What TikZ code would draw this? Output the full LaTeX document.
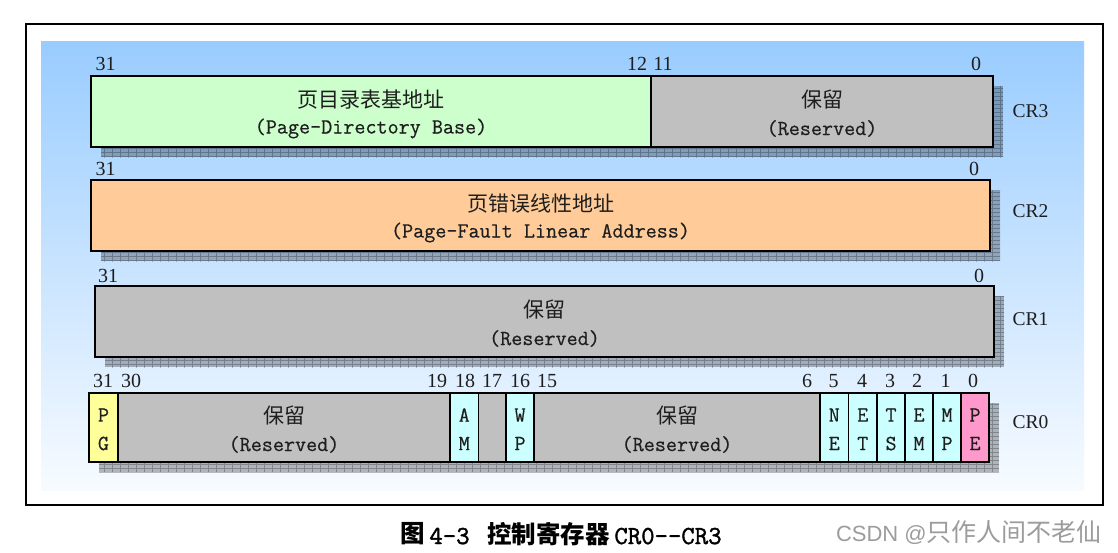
\documentclass[tikz,border=0pt]{standalone}
\usepackage{fontspec}
\setmainfont{Liberation Serif}
\newfontfamily\cjk{Noto Sans CJK SC}
\newfontfamily\wmlat{Liberation Sans}
\newfontfamily\bodymono[FakeBold=0.6]{Latin Modern Mono}
\newfontfamily\capmono[FakeBold=1.6]{Latin Modern Mono}
\usetikzlibrary{calc}
\definecolor{bgtop}{HTML}{99CCFF}
\definecolor{bgbot}{HTML}{F7FBFF}
\definecolor{pdgreen}{HTML}{CCFFCC}
\definecolor{resgray}{HTML}{C0C0C0}
\definecolor{pforange}{HTML}{FFCC99}
\definecolor{pgyellow}{HTML}{FFFF99}
\definecolor{bitcyan}{HTML}{CCFFFF}
\definecolor{pepink}{HTML}{FF99CC}
\definecolor{txtcol}{HTML}{1E1E1E}
\definecolor{wmgray}{HTML}{9C9C9C}
\newcommand\fieldbox[6]{%
  \node[regbox, fill=#6, minimum width={(#3-#2)*1pt}, minimum height={(#5-#4)*1pt}, anchor=north west] (#1) at (#2,#4) {};}
\newcommand\regshadow[4]{%
  \fill[shadowfill] (#1+10,#2+10) rectangle (#3+10,#4+10);
  \begin{scope}
    \clip (#1+10,#2+10) rectangle (#3+10,#4+10);
    \draw[shadowgrid] (#1,#2) grid[xstep=8pt,ystep=4pt] (#3+12,#4+12);
  \end{scope}}
\tikzset{
  regbox/.style={draw=black, line width=1.8pt, inner sep=0pt, outer sep=0pt},
  shadowfill/.style={fill=black, fill opacity=0.27},
  shadowgrid/.style={draw=black, draw opacity=0.25, line width=0.8pt},
  numlbl/.style={font=\fontsize{20}{20}\selectfont, text=txtcol, inner sep=0pt, anchor=base},
  crlbl/.style={font=\fontsize{19.5}{19.5}\selectfont, text=txtcol, inner sep=0pt, anchor=base},
  zh/.style={font=\cjk\fontsize{21}{21}\selectfont, text=txtcol, inner sep=0pt},
  en/.style={font=\bodymono\fontsize{21.5}{21.5}\selectfont, text=txtcol, inner sep=0pt},
  captt/.style={font=\capmono\fontsize{26}{26}\selectfont, inner sep=0pt, anchor=base},
  capzh/.style={font=\cjk\bfseries\fontsize{24.5}{24.5}\selectfont, inner sep=0pt},
}
\begin{document}
\begin{tikzpicture}[x=1pt,y=-1pt]
\useasboundingbox (0,0) rectangle (1118,552);
% frame and background
\fill[white] (0,0) rectangle (1118,552);
\draw[line width=2pt] (26,24) rectangle (1103,505);
\shade[top color=bgtop, bottom color=bgbot] (41,41) rectangle (1084,490);
% shadows
\regshadow{91}{76}{993}{147}
\regshadow{91}{180}{990}{251}
\regshadow{95}{286}{994}{357}
\regshadow{89}{393}{989}{462}
% CR3
\fieldbox{cr3hi}{91}{651}{76}{147}{pdgreen}
\fieldbox{cr3lo}{651}{993}{76}{147}{resgray}
\node[zh] (t3a) at ($(cr3hi.center)+(0,-12)$) {页目录表基地址};
\node[en] (t3b) at ($(cr3hi.center)+(0,17)$) {(Page-Directory Base)};
\node[zh] (t3c) at ($(cr3lo.center)+(0,-12)$) {保留};
\node[en] (t3d) at ($(cr3lo.center)+(0,17)$) {(Reserved)};
\node[numlbl] (n3a) at (105.5,70) {31};
\node[numlbl] (n3b) at (637,70) {12};
\node[numlbl] (n3c) at (663,70) {11};
\node[numlbl] (n3d) at (976,70) {0};
\node[crlbl] (l3) at (1030.5,117) {CR3};
% CR2
\fieldbox{cr2}{91}{990}{180}{251}{pforange}
\node[zh] (t2a) at ($(cr2.center)+(0,-12)$) {页错误线性地址};
\node[en] (t2b) at ($(cr2.center)+(0,17)$) {(Page-Fault Linear Address)};
\node[numlbl] (n2a) at (105.5,175) {31};
\node[numlbl] (n2b) at (974,175) {0};
\node[crlbl] (l2) at (1030.5,217) {CR2};
% CR1
\fieldbox{cr1}{95}{994}{286}{357}{resgray}
\node[zh] (t1a) at ($(cr1.center)+(0,-12)$) {保留};
\node[en] (t1b) at ($(cr1.center)+(0,17)$) {(Reserved)};
\node[numlbl] (n1a) at (108,282) {31};
\node[numlbl] (n1b) at (979,282) {0};
\node[crlbl] (l1) at (1030.5,325) {CR1};
% CR0
\fieldbox{pg}{89}{118}{393}{462}{pgyellow}
\fieldbox{res0a}{118}{450}{393}{462}{resgray}
\fieldbox{am}{450}{478.5}{393}{462}{bitcyan}
\fieldbox{b17}{478.5}{506}{393}{462}{resgray}
\fieldbox{wp}{506}{534}{393}{462}{bitcyan}
\fieldbox{res0b}{534}{820}{393}{462}{resgray}
\fieldbox{ne}{820}{848.5}{393}{462}{bitcyan}
\fieldbox{et}{848.5}{877}{393}{462}{bitcyan}
\fieldbox{ts}{877}{905}{393}{462}{bitcyan}
\fieldbox{em}{905}{933}{393}{462}{bitcyan}
\fieldbox{mp}{933}{961}{393}{462}{bitcyan}
\fieldbox{pe}{961}{989}{393}{462}{pepink}
\node[zh] (t0a) at ($(res0a.center)+(0,-12)$) {保留};
\node[en] (t0b) at ($(res0a.center)+(0,17)$) {(Reserved)};
\node[zh] (t0c) at ($(res0b.center)+(0,-12)$) {保留};
\node[en] (t0d) at ($(res0b.center)+(0,17)$) {(Reserved)};
\foreach \f/\a/\b in {pg/P/G, am/A/M, wp/W/P, ne/N/E, et/E/T, ts/T/S, em/E/M, mp/M/P, pe/P/E}{
  \node[en] (\f a) at ($(\f.center)+(0,-12.5)$) {\a};
  \node[en] (\f b) at ($(\f.center)+(0,16)$) {\b};
}
\foreach \t/\x in {31/103, 30/131, 19/437, 18/465, 17/492, 16/520, 15/547, 6/807, 5/833.5, 4/862, 3/890, 2/917, 1/945.5, 0/973}{
  \node[numlbl] (n0-\t) at (\x,387) {\t};
}
\node[crlbl] (l0) at (1030.5,428) {CR0};
% caption
\node[capzh] (capa) at (413,534) {图};
\node[captt] (capb) at (449.5,544) {4-3};
\node[capzh] (capc) at (548.5,534) {控制寄存器};
\node[captt] (capd) at (668,544) {CR0{-}{-}CR3};
% watermark
\node[text=wmgray, inner sep=0pt, anchor=east] (wm) at (1102,533) {{\wmlat\fontsize{22}{22}\selectfont CSDN @}{\cjk\fontsize{25}{25}\selectfont 只作人间不老仙}};
\end{tikzpicture}
\end{document}
